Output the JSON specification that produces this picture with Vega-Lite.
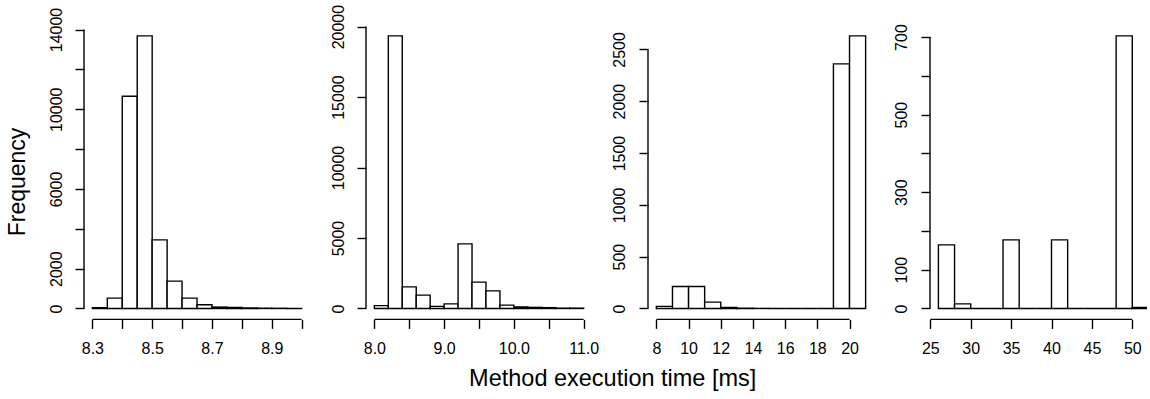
{
  "$schema": "https://vega.github.io/schema/vega-lite/v6.json",
  "background": "white",
  "padding": {"left": 6, "top": 4, "right": 0, "bottom": 0},
  "datasets": {
    "p1": [
      {"lo": 8.30, "hi": 8.35, "count": 40},
      {"lo": 8.35, "hi": 8.40, "count": 520},
      {"lo": 8.40, "hi": 8.45, "count": 10655},
      {"lo": 8.45, "hi": 8.50, "count": 13680},
      {"lo": 8.50, "hi": 8.55, "count": 3445},
      {"lo": 8.55, "hi": 8.60, "count": 1372},
      {"lo": 8.60, "hi": 8.65, "count": 518},
      {"lo": 8.65, "hi": 8.70, "count": 186},
      {"lo": 8.70, "hi": 8.75, "count": 70},
      {"lo": 8.75, "hi": 8.80, "count": 55},
      {"lo": 8.80, "hi": 8.85, "count": 25},
      {"lo": 8.85, "hi": 8.90, "count": 15},
      {"lo": 8.90, "hi": 8.95, "count": 10},
      {"lo": 8.95, "hi": 9.00, "count": 5}
    ],
    "p2": [
      {"lo": 8.0, "hi": 8.2, "count": 200},
      {"lo": 8.2, "hi": 8.4, "count": 19340},
      {"lo": 8.4, "hi": 8.6, "count": 1537},
      {"lo": 8.6, "hi": 8.8, "count": 945},
      {"lo": 8.8, "hi": 9.0, "count": 150},
      {"lo": 9.0, "hi": 9.2, "count": 330},
      {"lo": 9.2, "hi": 9.4, "count": 4586},
      {"lo": 9.4, "hi": 9.6, "count": 1868},
      {"lo": 9.6, "hi": 9.8, "count": 1253},
      {"lo": 9.8, "hi": 10.0, "count": 240},
      {"lo": 10.0, "hi": 10.2, "count": 110},
      {"lo": 10.2, "hi": 10.4, "count": 80},
      {"lo": 10.4, "hi": 10.6, "count": 60},
      {"lo": 10.6, "hi": 10.8, "count": 25},
      {"lo": 10.8, "hi": 11.0, "count": 25}
    ],
    "p3": [
      {"lo": 8, "hi": 9, "count": 20},
      {"lo": 9, "hi": 10, "count": 212},
      {"lo": 10, "hi": 11, "count": 212},
      {"lo": 11, "hi": 12, "count": 61},
      {"lo": 12, "hi": 13, "count": 11},
      {"lo": 13, "hi": 14, "count": 3},
      {"lo": 14, "hi": 15, "count": 1},
      {"lo": 15, "hi": 16, "count": 0},
      {"lo": 16, "hi": 17, "count": 0},
      {"lo": 17, "hi": 18, "count": 0},
      {"lo": 18, "hi": 19, "count": 0},
      {"lo": 19, "hi": 20, "count": 2360},
      {"lo": 20, "hi": 21, "count": 2630}
    ],
    "p4": [
      {"lo": 26, "hi": 28, "count": 164},
      {"lo": 28, "hi": 30, "count": 12},
      {"lo": 30, "hi": 32, "count": 0},
      {"lo": 32, "hi": 34, "count": 0},
      {"lo": 34, "hi": 36, "count": 177},
      {"lo": 36, "hi": 38, "count": 0},
      {"lo": 38, "hi": 40, "count": 0},
      {"lo": 40, "hi": 42, "count": 177},
      {"lo": 42, "hi": 44, "count": 0},
      {"lo": 44, "hi": 46, "count": 0},
      {"lo": 46, "hi": 48, "count": 0},
      {"lo": 48, "hi": 50, "count": 703},
      {"lo": 50, "hi": 52, "count": 3}
    ]
  },
  "title": {
    "text": "Method execution time [ms]",
    "orient": "bottom",
    "anchor": "middle",
    "frame": "bounds",
    "font": "Liberation Sans",
    "fontSize": 23.5,
    "fontWeight": "normal",
    "color": "black",
    "baseline": "alphabetic",
    "offset": 30,
    "dx": 36
  },
  "spacing": 56,
  "bounds": "flush",
  "hconcat": [
    {
      "width": 226,
      "height": 294.4,
      "layer": [
        {
          "data": {"name": "p1"},
          "mark": {"type": "rect", "fill": "white", "stroke": "black", "strokeWidth": 1.4},
          "encoding": {
            "x": {"field": "lo", "type": "quantitative",
              "scale": {"domain": [8.272, 9.028], "nice": false, "zero": false},
              "axis": {"values": [8.3, 8.4, 8.5, 8.6, 8.7, 8.8, 8.9, 9.0], "tickCount": 50, "title": null, "labelOverlap": false,
                "labelExpr": "indexof([8.3, 8.5, 8.7, 8.9], datum.value) >= 0 ? format(datum.value, '.1f') : ''"}},
            "x2": {"field": "hi"},
            "y": {"field": "count", "type": "quantitative",
              "scale": {"domain": [-547.2, 14227.2], "nice": false, "zero": false},
              "axis": {"values": [0, 2000, 4000, 6000, 8000, 10000, 12000, 14000], "tickCount": 50, "labelOverlap": false,
                "title": "Frequency", "titleFont": "Liberation Sans", "titleFontSize": 23, "titleFontWeight": "normal",
                "titleColor": "black", "titleAngle": 270, "titleAlign": "center", "titleBaseline": "alphabetic",
                "titleX": -59.6, "titleY": 156.5,
                "labelExpr": "indexof([0, 2000, 6000, 10000, 14000], datum.value) >= 0 ? format(datum.value, 'd') : ''"}},
            "y2": {"datum": 0}
          }
        },
        {
          "data": {"values": [{}]},
          "mark": {"type": "rule", "stroke": "black", "strokeWidth": 1.4},
          "encoding": {
            "x": {"datum": 8.3, "type": "quantitative"},
            "x2": {"datum": 9.0},
            "y": {"datum": -547.2, "type": "quantitative"}
          }
        },
        {
          "data": {"values": [{}]},
          "mark": {"type": "rule", "stroke": "black", "strokeWidth": 1.4},
          "encoding": {
            "x": {"datum": 8.272, "type": "quantitative"},
            "y": {"datum": 0, "type": "quantitative"},
            "y2": {"datum": 14000}
          }
        }
      ]
    },
    {
      "width": 226,
      "height": 294.4,
      "layer": [
        {
          "data": {"name": "p2"},
          "mark": {"type": "rect", "fill": "white", "stroke": "black", "strokeWidth": 1.4},
          "encoding": {
            "x": {"field": "lo", "type": "quantitative",
              "scale": {"domain": [7.88, 11.12], "nice": false, "zero": false},
              "axis": {"values": [8.0, 8.5, 9.0, 9.5, 10.0, 10.5, 11.0], "tickCount": 50, "title": null, "labelOverlap": false,
                "labelExpr": "datum.value % 1 == 0 ? format(datum.value, '.1f') : ''"}},
            "x2": {"field": "hi"},
            "y": {"field": "count", "type": "quantitative",
              "scale": {"domain": [-773.6, 20113.6], "nice": false, "zero": false},
              "axis": {"values": [0, 5000, 10000, 15000, 20000], "tickCount": 50, "title": null, "labelOverlap": false,
                "format": "d"}},
            "y2": {"datum": 0}
          }
        },
        {
          "data": {"values": [{}]},
          "mark": {"type": "rule", "stroke": "black", "strokeWidth": 1.4},
          "encoding": {
            "x": {"datum": 8.0, "type": "quantitative"},
            "x2": {"datum": 11.0},
            "y": {"datum": -773.6, "type": "quantitative"}
          }
        },
        {
          "data": {"values": [{}]},
          "mark": {"type": "rule", "stroke": "black", "strokeWidth": 1.4},
          "encoding": {
            "x": {"datum": 7.88, "type": "quantitative"},
            "y": {"datum": 0, "type": "quantitative"},
            "y2": {"datum": 20000}
          }
        }
      ]
    },
    {
      "width": 226,
      "height": 294.4,
      "layer": [
        {
          "data": {"name": "p3"},
          "mark": {"type": "rect", "fill": "white", "stroke": "black", "strokeWidth": 1.4},
          "encoding": {
            "x": {"field": "lo", "type": "quantitative",
              "scale": {"domain": [7.48, 21.52], "nice": false, "zero": false},
              "axis": {"values": [8, 10, 12, 14, 16, 18, 20], "tickCount": 50, "title": null, "labelOverlap": false,
                "format": "d"}},
            "x2": {"field": "hi"},
            "y": {"field": "count", "type": "quantitative",
              "scale": {"domain": [-105.2, 2735.2], "nice": false, "zero": false},
              "axis": {"values": [0, 500, 1000, 1500, 2000, 2500], "tickCount": 50, "title": null, "labelOverlap": false,
                "format": "d"}},
            "y2": {"datum": 0}
          }
        },
        {
          "data": {"values": [{}]},
          "mark": {"type": "rule", "stroke": "black", "strokeWidth": 1.4},
          "encoding": {
            "x": {"datum": 8, "type": "quantitative"},
            "x2": {"datum": 20},
            "y": {"datum": -105.2, "type": "quantitative"}
          }
        },
        {
          "data": {"values": [{}]},
          "mark": {"type": "rule", "stroke": "black", "strokeWidth": 1.4},
          "encoding": {
            "x": {"datum": 7.48, "type": "quantitative"},
            "y": {"datum": 0, "type": "quantitative"},
            "y2": {"datum": 2500}
          }
        }
      ]
    },
    {
      "width": 217,
      "height": 294.4,
      "layer": [
        {
          "data": {"name": "p4"},
          "mark": {"type": "rect", "fill": "white", "stroke": "black", "strokeWidth": 1.4, "clip": true},
          "encoding": {
            "x": {"field": "lo", "type": "quantitative",
              "scale": {"domain": [24.96, 51.82], "nice": false, "zero": false},
              "axis": {"values": [25, 30, 35, 40, 45, 50], "tickCount": 50, "title": null, "labelOverlap": false,
                "format": "d"}},
            "x2": {"field": "hi"},
            "y": {"field": "count", "type": "quantitative",
              "scale": {"domain": [-28.12, 731.12], "nice": false, "zero": false},
              "axis": {"values": [0, 100, 200, 300, 400, 500, 600, 700], "tickCount": 50, "title": null, "labelOverlap": false,
                "labelExpr": "indexof([0, 100, 300, 500, 700], datum.value) >= 0 ? format(datum.value, 'd') : ''"}},
            "y2": {"datum": 0}
          }
        },
        {
          "data": {"values": [{}]},
          "mark": {"type": "rule", "stroke": "black", "strokeWidth": 1.4},
          "encoding": {
            "x": {"datum": 25, "type": "quantitative"},
            "x2": {"datum": 50},
            "y": {"datum": -28.12, "type": "quantitative"}
          }
        },
        {
          "data": {"values": [{}]},
          "mark": {"type": "rule", "stroke": "black", "strokeWidth": 1.4},
          "encoding": {
            "x": {"datum": 24.96, "type": "quantitative"},
            "y": {"datum": 0, "type": "quantitative"},
            "y2": {"datum": 700}
          }
        }
      ]
    }
  ],
  "config": {
    "view": {"stroke": null},
    "axis": {
      "grid": false,
      "domain": false,
      "ticks": true,
      "tickSize": 9,
      "tickWidth": 1.4,
      "tickColor": "black",
      "tickCount": 50,
      "labelFont": "Liberation Sans",
      "labelFontSize": 16,
      "labelColor": "black",
      "labelOverlap": false,
      "labelFlush": false,
      "labelBound": false
    },
    "axisX": {
      "labelAngle": 0,
      "labelAlign": "center",
      "labelBaseline": "alphabetic",
      "labelPadding": 25
    },
    "axisY": {
      "labelAngle": 270,
      "labelAlign": "center",
      "labelBaseline": "alphabetic",
      "labelPadding": 14
    }
  }
}
